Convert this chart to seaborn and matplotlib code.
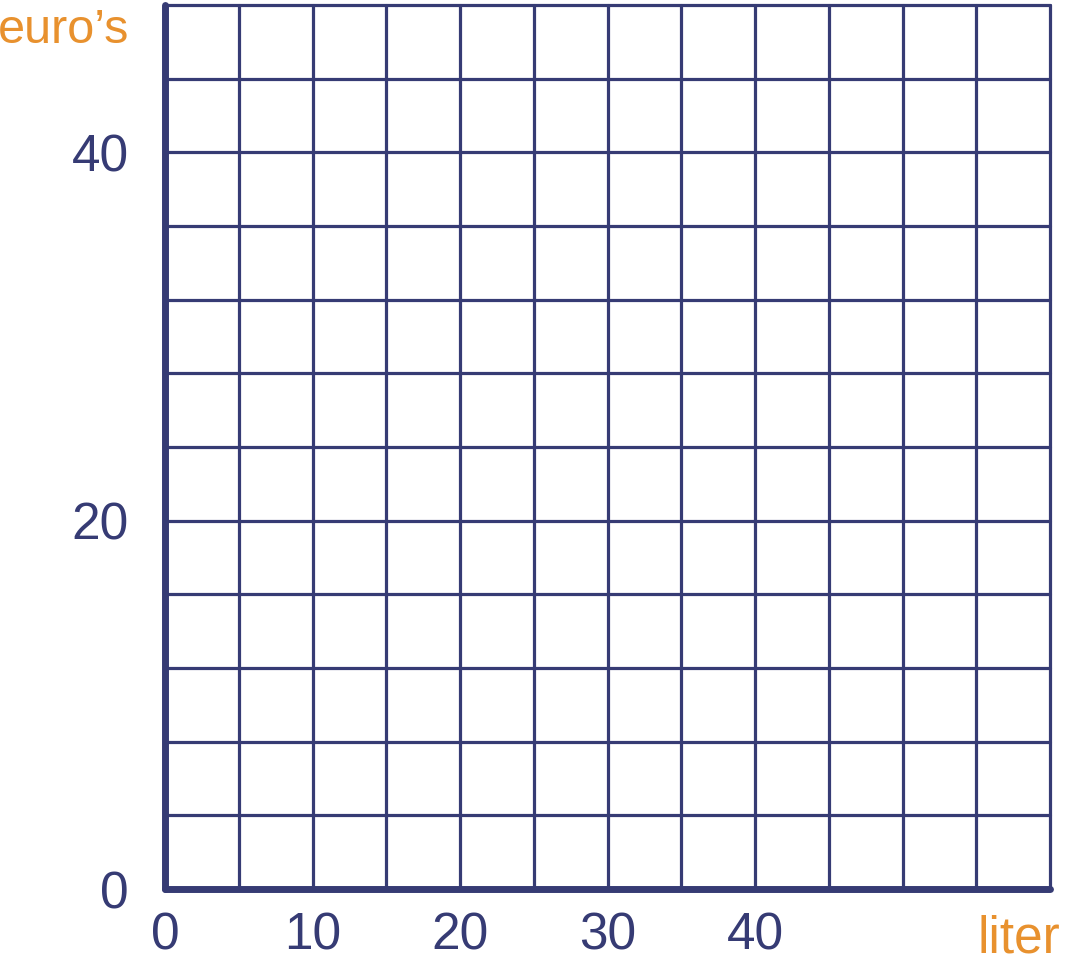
import numpy as np
import matplotlib
matplotlib.use("Agg")
import matplotlib.pyplot as plt
import seaborn as sns

# axis data: empty grid "euro's" vs "liter"
x_labels = [0, 10, 20, 30, 40]
y_labels = [0, 20, 40]
x_grid = np.arange(0, 61, 5)
y_grid = np.arange(0, 49, 4)
x_title = "liter"
y_title = "euro\u2019s"

navy = "#363b74"
orange = "#e8912e"

sns.set_theme(style="white")
plt.rcParams["font.family"] = ["Liberation Sans", "DejaVu Sans"]

fig = plt.figure(figsize=(10.67, 9.63), dpi=100)
ax = fig.add_axes([165 / 1067, 74 / 963, 885 / 1067, 884 / 963])

ax.set_xlim(x_grid[0], x_grid[-1])
ax.set_ylim(y_grid[0], y_grid[-1])

ax.set_xticks(x_labels)
ax.set_yticks(y_labels)
ax.set_xticks(x_grid, minor=True)
ax.set_yticks(y_grid, minor=True)
ax.grid(which="both", color=navy, linewidth=2.3, clip_on=False)
ax.set_axisbelow(True)

ax.tick_params(which="both", length=0, labelsize=37, labelcolor=navy)
ax.tick_params(axis="x", pad=16)
ax.tick_params(axis="y", pad=26)

sns.despine(ax=ax, top=True, right=True)
for side in ["left", "bottom"]:
    ax.spines[side].set_color(navy)
    ax.spines[side].set_linewidth(5)
    ax.spines[side].set_capstyle("round")

ax.text(-0.04, 0.971, y_title, transform=ax.transAxes, fontsize=35,
        color=orange, ha="right", va="center")
ax.text(1.012, -0.056, x_title, transform=ax.transAxes, fontsize=37,
        color=orange, ha="right", va="center")

fig.savefig("out.png", dpi=100)
